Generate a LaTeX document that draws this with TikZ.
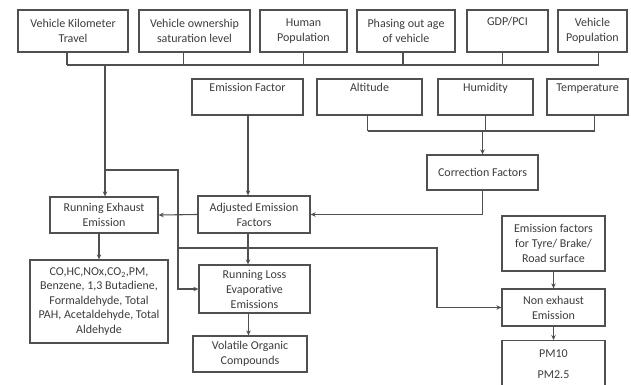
\documentclass[tikz,border=0pt]{standalone}
\usepackage{fontspec}
\setmainfont{Carlito}
\usetikzlibrary{arrows.meta,calc}
\definecolor{lncol}{HTML}{505050}
\definecolor{txcol}{HTML}{3C3C3C}
\tikzset{
  box/.style={draw=lncol, line width=1.3pt, inner sep=0pt, align=center,
    font=\fontsize{12}{15}\selectfont, text=txcol},
  wire/.style={draw=lncol, line width=1.1pt},
  arr/.style={wire, -{Stealth[length=5pt,width=4.5pt]}}
}
\begin{document}
\begin{tikzpicture}[x=1pt,y=-1pt]
\useasboundingbox (0,0) rectangle (631,384);
\clip (0,0) rectangle (631,384);
% top row
\node[box, minimum width=110pt, minimum height=42pt] (vkt) at (73,31) {Vehicle Kilometer\\Travel};
\node[box, minimum width=111pt, minimum height=42pt] (vos) at (194.5,31) {Vehicle ownership\\saturation level};
\node[box, minimum width=87pt, minimum height=42pt] (hp) at (303.5,31) {Human\\Population};
\node[box, minimum width=98pt, minimum height=42pt] (pao) at (406,31) {Phasing out age\\of vehicle};
\node[box, minimum width=81pt, minimum height=42pt] (gdp) at (507.5,31) {GDP/PCI\\\strut};
\node[box, minimum width=69pt, minimum height=42pt] (vp) at (592.5,31) {Vehicle\\Population};
% second row
\node[box, minimum width=111pt, minimum height=36pt] (ef) at (247.5,97) {Emission Factor\\\strut};
\node[box, minimum width=105pt, minimum height=36pt] (alt) at (369.5,97) {Altitude\\\strut};
\node[box, minimum width=95pt, minimum height=36pt] (hum) at (485.5,97) {Humidity\\\strut};
\node[box, minimum width=81pt, minimum height=36pt] (tmp) at (587.5,97) {Temperature\\\strut};
\node[box, minimum width=111pt, minimum height=35pt] (cf) at (482.5,172.5) {Correction Factors};
% middle
\node[box, minimum width=108pt, minimum height=36pt] (ree) at (104,215) {Running Exhaust\\Emission};
\node[box, minimum width=112pt, minimum height=37pt] (adj) at (254,214.5) {Adjusted Emission\\Factors};
\node[box, minimum width=138pt, minimum height=83pt, font=\fontsize{12}{14.5}\selectfont] (co) at (99,301.5) {CO,HC,NOx,CO\textsubscript{2},PM,\\Benzene, 1,3 Butadiene,\\Formaldehyde, Total\\PAH, Acetaldehyde, Total\\Aldehyde};
\node[box, minimum width=111pt, minimum height=48pt] (rle) at (254.5,289) {Running Loss\\Evaporative\\Emissions};
\node[box, minimum width=114pt, minimum height=36pt] (voc) at (250,354) {Volatile Organic\\Compounds};
\node[box, minimum width=103pt, minimum height=55pt] (tyre) at (553.5,243.5) {Emission factors\\for Tyre/ Brake/\\Road surface};
\node[box, minimum width=103pt, minimum height=37pt] (nee) at (553.5,307.5) {Non exhaust\\Emission};
\node[box, minimum width=103pt, minimum height=46pt, anchor=north] (pm) at (553.5,340) {PM10\\[6pt]PM2.5};
% top bus
\coordinate (bus) at (0,65);
\draw[wire] ([xshift=-6pt]vkt.south) -- ([xshift=-6pt]vkt.south |- bus);
\draw[wire] ([xshift=-11pt]vos.south) -- ([xshift=-11pt]vos.south |- bus);
\draw[wire] (hp.south) -- (hp.south |- bus);
\draw[wire] ([xshift=-3pt]pao.south) -- ([xshift=-3pt]pao.south |- bus);
\draw[wire] ([xshift=-5pt]gdp.south) -- ([xshift=-5pt]gdp.south |- bus);
\draw[wire] ([xshift=6pt]vp.south) -- ([xshift=6pt]vp.south |- bus);
\draw[wire] ([xshift=-6pt]vkt.south |- bus) -- ([xshift=6pt]vp.south |- bus);
\draw[arr] ([xshift=1pt]ree.north |- bus) -- ([xshift=1pt]ree.north);
% branches from main line
\coordinate (j1) at (105,170);
\coordinate (j2) at (178,170);
\coordinate (j3) at (178,248);
\coordinate (j4) at (437,248);
\draw[arr] (j1) -- (j2) |- (rle.west);
\draw[arr] (j3) -- (j4) |- (nee.west);
% emission factor
\draw[arr] ([xshift=0.5pt]ef.south) -- ([xshift=0.5pt]ef.south |- adj.north);
% climate bus
\coordinate (bus2) at (0,131);
\draw[wire] ([xshift=-2pt]alt.south) -- ([xshift=-2pt]alt.south |- bus2);
\draw[wire] (hum.south) -- (hum.south |- bus2);
\draw[wire] ([xshift=7pt]tmp.south) -- ([xshift=7pt]tmp.south |- bus2);
\draw[wire] ([xshift=-2pt]alt.south |- bus2) -- ([xshift=7pt]tmp.south |- bus2);
\draw[arr] (cf.north |- bus2) -- (cf.north);
\draw[arr] (cf.south) |- (adj.east);
% adjusted to outputs
\draw[arr] (adj.west) -- (ree.east);
\draw[arr] ([xshift=-6pt]adj.south) -- ([xshift=-6pt]adj.south |- rle.north);
\draw[arr] (co.north |- ree.south) -- (co.north);
\draw[arr] ([xshift=-6pt]rle.south) -- ([xshift=-6pt]rle.south |- voc.north);
\draw[arr] (tyre.south) -- (nee.north);
\draw[arr] (nee.south) -- (pm.north);
\end{tikzpicture}
\end{document}
